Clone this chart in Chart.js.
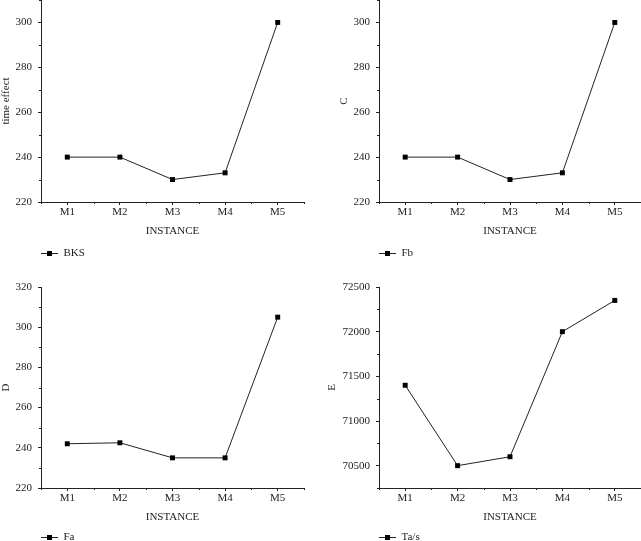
<!DOCTYPE html>
<html>
<head>
<meta charset="utf-8">
<script src="https://cdn.jsdelivr.net/npm/chart.js@4.4.1/dist/chart.umd.min.js"></script>
<style>
    html, body { margin: 0; padding: 0; background: #fff; width: 641px; height: 541px; overflow: hidden; position: relative; }
    canvas { position: absolute; }
</style>
</head>
<body>
<canvas id="chartBKS" width="320" height="269" style="left:0;top:0;width:320px;height:269px"></canvas>
<canvas id="chartFb" width="303" height="269" style="left:338px;top:0;width:303px;height:269px"></canvas>
<canvas id="chartFa" width="320" height="291" style="left:0;top:262px;width:320px;height:291px"></canvas>
<canvas id="chartTas" width="315" height="291" style="left:326px;top:262px;width:315px;height:291px"></canvas>
<script>
// data
const categories = ["M1", "M2", "M3", "M4", "M5"];
const bksValues = [240, 240, 230, 233, 300];
const fbValues = [240, 240, 230, 233, 300];
const faValues = [242, 242.5, 235, 235, 305];
const tasValues = [71400, 70500, 70600, 72000, 72350];

// labelled y ticks of each panel
const ticksBKS = [220, 240, 260, 280, 300];
const ticksFb = [220, 240, 260, 280, 300];
const ticksFa = [220, 240, 260, 280, 300, 320];
const ticksTas = [70500, 71000, 71500, 72000, 72500];

const ink = "#222";
Chart.defaults.font.family = '"Liberation Serif", "DejaVu Serif", serif';
Chart.defaults.font.size = 11;
Chart.defaults.color = ink;

// legend symbol: short line with a square in the middle
const legendIcon = document.createElement("canvas");
legendIcon.width = 17;
legendIcon.height = 7;
(function () {
    const g = legendIcon.getContext("2d");
    g.strokeStyle = ink;
    g.lineWidth = 1;
    g.beginPath();
    g.moveTo(0, 3.5);
    g.lineTo(17, 3.5);
    g.stroke();
    g.fillStyle = "#000";
    g.fillRect(6, 1, 5, 5);
})();

// small ticks between the labelled ones
const minorTicks = {
    id: "minorTicks",
    afterDraw(chart, args, opts) {
        const ctx = chart.ctx;
        const xs = chart.scales.x;
        const ys = chart.scales.y;
        const area = chart.chartArea;
        ctx.save();
        ctx.strokeStyle = ink;
        ctx.lineWidth = 1;
        ctx.beginPath();
        const first = opts.ticks[0] - opts.step;
        for (let v = first; v <= ys.max + 1e-9; v += opts.step * 2) {
            if (v < ys.min) continue;
            const py = Math.round(ys.getPixelForValue(v)) + 0.5;
            ctx.moveTo(area.left - 2, py);
            ctx.lineTo(area.left, py);
        }
        for (let i = -0.5; i <= categories.length - 0.5; i += 1) {
            const px = Math.round(xs.getPixelForValue(i)) + 0.5;
            ctx.moveTo(px, area.bottom);
            ctx.lineTo(px, area.bottom + 2);
        }
        ctx.stroke();
        ctx.restore();
    },
};

function makeChart(id, cfg) {
    return new Chart(document.getElementById(id), {
        type: "line",
        data: {
            labels: categories,
            datasets: [
                {
                    label: cfg.label,
                    data: cfg.data,
                    borderColor: ink,
                    borderWidth: 1,
                    backgroundColor: "#000",
                    pointStyle: "rect",
                    pointRadius: 3.5,
                    pointBorderWidth: 0,
                    pointBackgroundColor: "#000",
                    tension: 0,
                    fill: false,
                },
            ],
        },
        options: {
            responsive: false,
            animation: false,
            events: [],
            layout: { autoPadding: false, padding: { top: cfg.padTop, right: cfg.padRight, left: 0, bottom: 0 } },
            scales: {
                x: {
                    type: "category",
                    offset: true,
                    grid: { display: true, drawOnChartArea: false, drawTicks: true, tickLength: 3, offset: false, color: ink },
                    border: { display: true, color: ink, width: 1 },
                    ticks: { padding: 1, maxRotation: 0, color: ink },
                    title: { display: true, text: "INSTANCE", padding: { top: 0, bottom: cfg.xHeight - 36 }, color: ink },
                    afterFit: (s) => {
                        s.height = cfg.xHeight;
                        s.paddingLeft = 0;
                        s.paddingRight = 0;
                    },
                },
                y: {
                    min: cfg.min,
                    max: cfg.max,
                    grid: { display: true, drawOnChartArea: false, drawTicks: true, tickLength: 3, color: ink },
                    border: { display: true, color: ink, width: 1 },
                    ticks: { padding: 6, color: ink, callback: (v) => String(v) },
                    title: { display: true, text: cfg.title, padding: { top: 0, bottom: 0 }, color: ink },
                    afterBuildTicks: (s) => {
                        s.ticks = cfg.ticks.map((v) => ({ value: v }));
                    },
                    afterFit: (s) => {
                        s.width = cfg.yWidth;
                        s.paddingTop = 0;
                        s.paddingBottom = 0;
                    },
                },
            },
            plugins: {
                legend: {
                    position: "bottom",
                    align: "start",
                    fullSize: false,
                    labels: {
                        usePointStyle: true,
                        pointStyle: legendIcon,
                        pointStyleWidth: 17,
                        padding: 0,
                        color: ink,
                        font: { size: 11 },
                    },
                },
                tooltip: { enabled: false },
                minorTicks: { step: cfg.minor, ticks: cfg.ticks },
            },
        },
        plugins: [minorTicks],
    });
}

makeChart("chartBKS", { label: "BKS", title: "time effect", data: bksValues, ticks: ticksBKS, min: 220, max: 310, minor: 10, yWidth: 41, xHeight: 46, padTop: 0, padRight: 16 });
makeChart("chartFb", { label: "Fb", title: "C", data: fbValues, ticks: ticksFb, min: 220, max: 310, minor: 10, yWidth: 41, xHeight: 46, padTop: 0, padRight: 0 });
makeChart("chartFa", { label: "Fa", title: "D", data: faValues, ticks: ticksFa, min: 220, max: 320, minor: 10, yWidth: 41, xHeight: 44, padTop: 25, padRight: 16 });
makeChart("chartTas", { label: "Ta/s", title: "E", data: tasValues, ticks: ticksTas, min: 70250, max: 72500, minor: 250, yWidth: 53, xHeight: 44, padTop: 25, padRight: 0 });
</script>
</body>
</html>
